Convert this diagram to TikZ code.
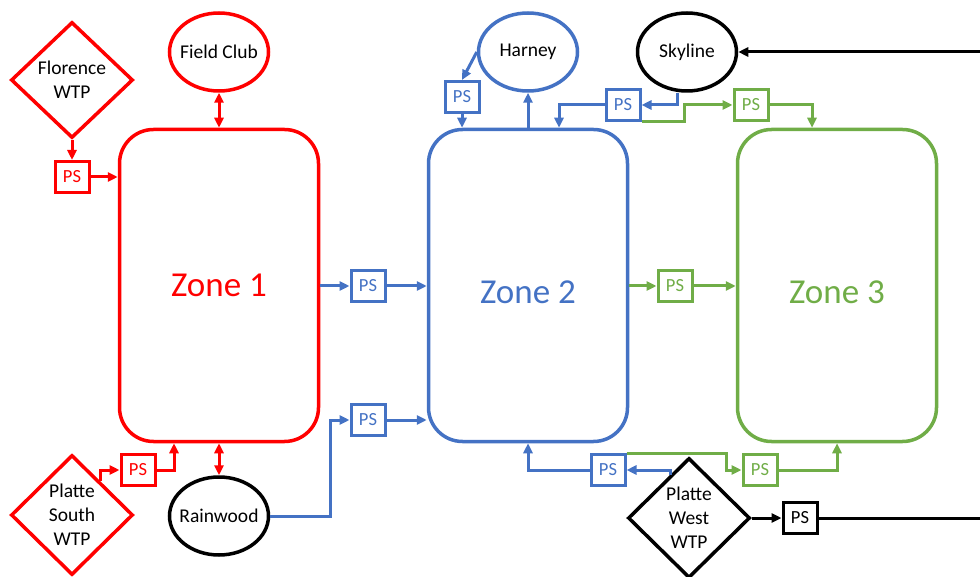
\documentclass[tikz,border=0pt]{standalone}
\usepackage{fontspec}
\setmainfont{Carlito}
\usetikzlibrary{shapes.geometric,arrows.meta,calc}
\definecolor{zred}{HTML}{FF0000}
\definecolor{zblue}{HTML}{4472C4}
\definecolor{zgreen}{HTML}{70AD47}
\newcommand{\ztext}[1]{\makebox[0pt]{#1}}
\tikzset{
  zonebox/.style={draw, line width=3.5pt, rounded corners=34pt, minimum width=199pt, minimum height=312pt, inner sep=0pt, font=\fontsize{35}{38}\selectfont},
  ellnode/.style={ellipse, draw, line width=3.5pt, minimum width=99pt, minimum height=78pt, inner sep=0pt, font=\fontsize{19.5}{22}\selectfont, text=black},
  dia/.style={diamond, draw, line width=3.5pt, minimum width=122pt, minimum height=116pt, inner sep=0pt, align=center, font=\fontsize{19.5}{24}\selectfont, text=black},
  psbox/.style={draw, line width=3pt, minimum width=34pt, minimum height=31pt, inner sep=0pt, font=\fontsize{18.5}{20}\selectfont},
  conn/.style={line width=3pt, -{Triangle[length=10pt,width=9pt]}},
  dconn/.style={line width=3pt, {Triangle[length=10pt,width=9pt]}-{Triangle[length=10pt,width=9pt]}},
  plain/.style={line width=3pt}
}
\begin{document}
\begin{tikzpicture}[x=1pt,y=-1pt]
\useasboundingbox (0,0) rectangle (980,577);
% zones
\node[zonebox, draw=zred, text=zred] (z1) at (219,285.5) {Zone 1};
\node[zonebox, draw=zblue, label={[text=zblue, font=\fontsize{35}{38}\selectfont, yshift=-7pt]center:Zone 2}] (z2) at (528,285.5) {};
\node[zonebox, draw=zgreen, label={[text=zgreen, font=\fontsize{35}{38}\selectfont, yshift=-7pt]center:Zone 3}] (z3) at (837,285.5) {};
% ellipses
\node[ellnode, draw=zred] (fc) at (219,52) {\ztext{Field Club}};
\node[ellnode, draw=black] (rw) at (219,516) {\ztext{Rainwood}};
\node[ellnode, draw=zblue] (har) at (528,52) {\ztext{Harney}};
\node[ellnode, draw=black] (sky) at (687,52) {\ztext{Skyline}};
% diamonds
\node[dia, draw=zred] (flo) at (72,80) {Florence\\WTP};
\node[dia, draw=zred, minimum height=120pt] (pso) at (72,515) {Platte\\South\\WTP};
\node[dia, draw=black, minimum height=120pt] (pwe) at (689,518) {Platte\\West\\WTP};
% pump stations
\node[psbox, draw=zred, text=zred] (psr1) at (72,177) {PS};
\node[psbox, draw=zred, text=zred] (psr2) at (138,470) {PS};
\node[psbox, draw=zblue, text=zblue] (psb1) at (368,286) {PS};
\node[psbox, draw=zblue, text=zblue] (psb2) at (368,420) {PS};
\node[psbox, draw=zblue, text=zblue] (psh) at (462,97) {PS};
\node[psbox, draw=zblue, text=zblue] (pss) at (623,105) {PS};
\node[psbox, draw=zgreen, text=zgreen] (psg1) at (751,105) {PS};
\node[psbox, draw=zgreen, text=zgreen] (psg2) at (675,286) {PS};
\node[psbox, draw=zblue, text=zblue] (psb3) at (608,470) {PS};
\node[psbox, draw=zgreen, text=zgreen] (psg3) at (760,470) {PS};
\node[psbox, draw=black] (psk) at (800,518) {PS};
\coordinate (skyin) at (980,52);
\coordinate (pwout) at (980,518);
% red connectors
\draw[conn, zred] (flo.south) -- (psr1.north);
\draw[conn, zred] (psr1.east) -- (psr1.east -| z1.west);
\draw[dconn, zred] (fc.south) -- (z1.north);
\draw[dconn, zred] (z1.south) -- (rw.north);
\draw[conn, zred] ($(pso.north)!0.45!(pso.east)$) |- (psr2.west);
\draw[conn, zred] (psr2.east) -| ([xshift=-45pt]z1.south);
% blue connectors
\draw[conn, zblue] (psb1.west -| z1.east) -- (psb1.west);
\draw[conn, zblue] (psb1.east) -- (psb1.east -| z2.west);
\draw[conn, zblue] (rw.east) -| ([xshift=-19pt]psb2.west) -- (psb2.west);
\draw[conn, zblue] (psb2.east) -- (psb2.east -| z2.west);
\draw[conn, zblue] (har.west) -- (psh.north);
\draw[conn, zblue] (psh.south) -- (psh.south |- z2.north);
\draw[conn, zblue] (z2.north) -- (har.south);
\draw[conn, zblue] ([xshift=-10pt]sky.south) |- (pss.east);
\draw[conn, zblue] (pss.west) -| ([xshift=31pt]z2.north);
\draw[conn, zblue] ($(pwe.north)!0.3!(pwe.west)$) |- (psb3.east);
\draw[conn, zblue] (psb3.west) -| (z2.south);
% green connectors
\draw[conn, zgreen] (pss.south east) -| ([xshift=-48pt]psg1.west) -- (psg1.west);
\draw[conn, zgreen] (psg1.east) -| ([xshift=-25pt]z3.north);
\draw[conn, zgreen] (psg2.west -| z2.east) -- (psg2.west);
\draw[conn, zgreen] (psg2.east) -- (psg2.east -| z3.west);
\draw[conn, zgreen] (psb3.north east) -| ([xshift=-15pt]psg3.west) -- (psg3.west);
\draw[conn, zgreen] (psg3.east) -| (z3.south);
% black connectors
\draw[conn, black] (skyin) -- (sky.east);
\draw[conn, black] (pwe.east) -- (psk.west);
\draw[plain, black] (psk.east) -- (pwout);
\end{tikzpicture}
\end{document}
